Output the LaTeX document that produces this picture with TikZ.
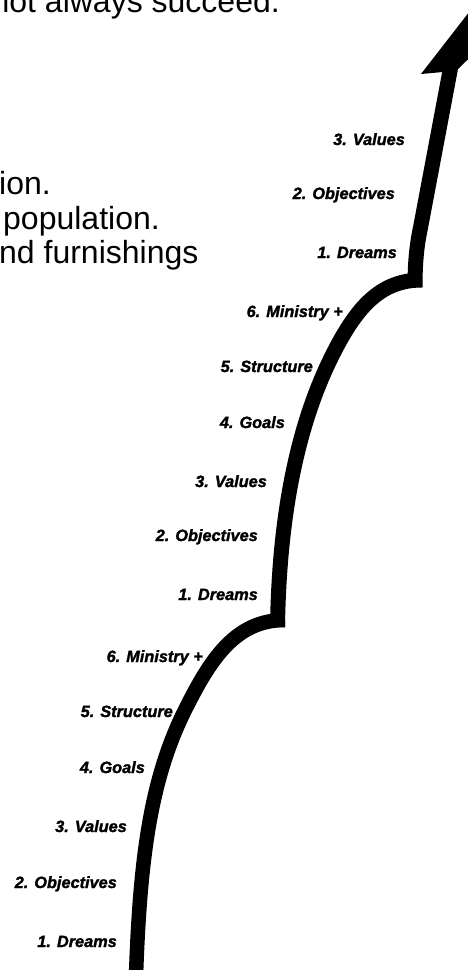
\documentclass[tikz,border=0pt]{standalone}
\usepackage{fontspec}
\setmainfont{Liberation Sans}
\newfontfamily\lblfont[FakeBold=1.6]{Liberation Sans Bold Italic}
\begin{document}
\begin{tikzpicture}[x=1pt,y=-1pt,
  lbl/.style={font=\fontsize{16.3}{18}\lblfont, anchor=base east, inner sep=0pt},
  body/.style={font=\fontsize{32}{36}\selectfont, inner sep=0pt},
  band/.style={line width=15pt, line cap=butt, draw=black}]
\useasboundingbox (0,0) rectangle (468,970);
\clip (0,0) rectangle (468,970);
\fill[white] (0,0) rectangle (468,970);

% text at left
\node[body, anchor=base east] (t0) at (280,12) {not always succeed.};
\node[body, anchor=base west] (t1) at (-1,194) {ion.};
\node[body, anchor=base west] (t2) at (3,229) {population.};
\node[body, anchor=base west] (t3) at (-1,263) {nd furnishings};

% arrow path points
\coordinate (a0) at (136,975);
\coordinate (a1) at (185,710);
\coordinate (a2) at (285,620);
\coordinate (b0) at (277.5,627);
\coordinate (b1) at (330,360);
\coordinate (b2) at (422,280);
\coordinate (c0) at (415,287);
\coordinate (c1) at (421,225);
\coordinate (c2) at (453,55);

\draw[band, line width=14.5pt] (a0) .. controls (140,860) and (150,780) .. (a1)
  .. controls (210,660) and (235,620) .. (a2);
\draw[band] (b0) .. controls (279,520) and (296,430) .. (b1)
  .. controls (355.5,307.5) and (380,280) .. (b2);
\draw[band] (c0) .. controls (415,255) and (418,240) .. (c1) -- (c2);

% arrowhead
\coordinate (h1) at (421,74);
\coordinate (h2) at (443,72);
\coordinate (h3) at (457,70);
\coordinate (h4) at (495,33);
\coordinate (h5) at (487,-11);
\fill[black] (h1) -- (h2) -- (h3) -- (h4) -- (h5) -- cycle;

% labels, top group
\node[lbl] (u3) at (405,145) {3. Values};
\node[lbl] (u2) at (395,199) {2. Objectives};
\node[lbl] (u1) at (397,258) {1. Dreams};
% middle group
\node[lbl] (m6) at (343,317) {6. Ministry +};
\node[lbl] (m5) at (313,372) {5. Structure};
\node[lbl] (m4) at (285,428) {4. Goals};
\node[lbl] (m3) at (267,487) {3. Values};
\node[lbl] (m2) at (258,541) {2. Objectives};
\node[lbl] (m1) at (258,600) {1. Dreams};
% bottom group
\node[lbl] (l6) at (203,662) {6. Ministry +};
\node[lbl] (l5) at (173,717) {5. Structure};
\node[lbl] (l4) at (145,773) {4. Goals};
\node[lbl] (l3) at (127,832) {3. Values};
\node[lbl] (l2) at (117,888) {2. Objectives};
\node[lbl] (l1) at (117,947) {1. Dreams};
\end{tikzpicture}
\end{document}
